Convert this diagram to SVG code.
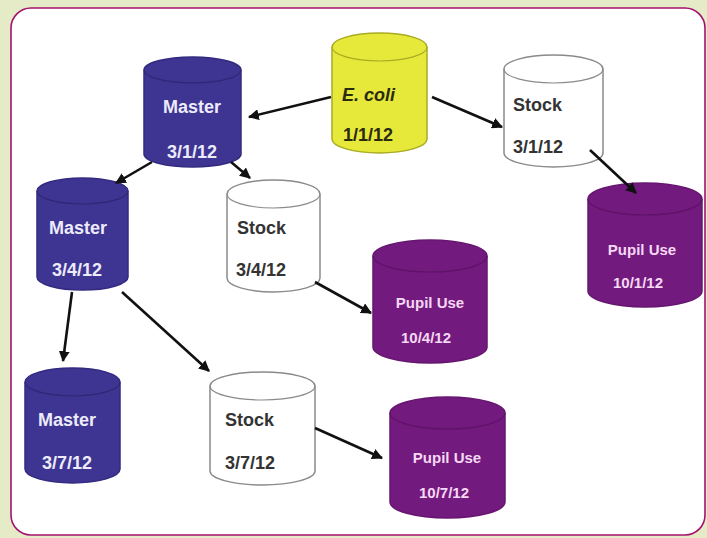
<svg xmlns="http://www.w3.org/2000/svg" width="707" height="538" viewBox="0 0 707 538">
<defs>
<style>
.master{fill:#3e3492;stroke:#332a80;stroke-width:1.5}
.masterTop{fill:none;stroke:#2f2775;stroke-width:1.2}
.stock{fill:#ffffff;stroke:#8a8a8a;stroke-width:1.5}
.stockTop{fill:none;stroke:#8a8a8a;stroke-width:1.2}
.pupil{fill:#731a7e;stroke:#661670;stroke-width:1.5}
.pupilTop{fill:none;stroke:#5e1268;stroke-width:1.2}
.ecoli{fill:#e6e83a;stroke:#a9ab22;stroke-width:1.5}
.ecoliTop{fill:none;stroke:#a9ab22;stroke-width:1.2}
text{font-family:"Liberation Sans",Arial,sans-serif;font-weight:bold}
.tm{fill:#ecebfa;font-size:18px;text-anchor:middle}
.ts{fill:#333333;font-size:18px}
.tp{fill:#f6d8f4;font-size:15px;text-anchor:middle}
.te{fill:#2b2b10;font-size:18px}
.conn{stroke:#111111;stroke-width:2.6;fill:none;marker-end:url(#ah)}
</style>
<marker id="ah" viewBox="0 0 10 10" refX="9" refY="5" markerWidth="4.2" markerHeight="4.2" orient="auto" markerUnits="strokeWidth">
<path d="M0,0 L10,5 L0,10 Z" fill="#111111"/>
</marker>
</defs>
<rect x="0" y="0" width="707" height="538" fill="#e5eac7"/>
<rect x="11" y="8" width="694" height="527" rx="20" ry="20" fill="#ffffff" stroke="#a3126f" stroke-width="1.6"/>

<g id="master-3-1-12">
<path class="master" d="M144,70 A48.5,13 0 0 1 241,70 V154 A48.5,13 0 0 1 144,154 Z"/>
<path class="masterTop" d="M144,70 A48.5,13 0 0 0 241,70"/>
<text class="tm" x="192" y="113">Master</text>
<text class="tm" x="192" y="158">3/1/12</text>
</g>

<g id="ecoli-1-1-12">
<path class="ecoli" d="M332,47 A47.5,14 0 0 1 427,47 V139 A47.5,14 0 0 1 332,139 Z"/>
<path class="ecoliTop" d="M332,47 A47.5,14 0 0 0 427,47"/>
<text class="te" x="342" y="101" font-style="italic">E. coli</text>
<text class="te" x="343" y="141">1/1/12</text>
</g>

<g id="stock-3-1-12">
<path class="stock" d="M504,69 A49.5,14 0 0 1 603,69 V153 A49.5,14 0 0 1 504,153 Z"/>
<path class="stockTop" d="M504,69 A49.5,14 0 0 0 603,69"/>
<text class="ts" x="513" y="111">Stock</text>
<text class="ts" x="513" y="153">3/1/12</text>
</g>

<g id="pupil-10-1-12">
<path class="pupil" d="M588,199 A57,16 0 0 1 702,199 V291 A57,16 0 0 1 588,291 Z"/>
<path class="pupilTop" d="M588,199 A57,16 0 0 0 702,199"/>
<text class="tp" x="642" y="255">Pupil Use</text>
<text class="tp" x="638" y="288">10/1/12</text>
</g>

<g id="master-3-4-12">
<path class="master" d="M37,191 A45.5,13 0 0 1 128,191 V277 A45.5,13 0 0 1 37,277 Z"/>
<path class="masterTop" d="M37,191 A45.5,13 0 0 0 128,191"/>
<text class="tm" x="78" y="234">Master</text>
<text class="tm" x="77" y="276">3/4/12</text>
</g>

<g id="stock-3-4-12">
<path class="stock" d="M227,194 A46.5,14 0 0 1 320,194 V278 A46.5,14 0 0 1 227,278 Z"/>
<path class="stockTop" d="M227,194 A46.5,14 0 0 0 320,194"/>
<text class="ts" x="237" y="234">Stock</text>
<text class="ts" x="236" y="276">3/4/12</text>
</g>

<g id="pupil-10-4-12">
<path class="pupil" d="M373,256 A57,16 0 0 1 487,256 V347 A57,16 0 0 1 373,347 Z"/>
<path class="pupilTop" d="M373,256 A57,16 0 0 0 487,256"/>
<text class="tp" x="430" y="308">Pupil Use</text>
<text class="tp" x="426" y="343">10/4/12</text>
</g>

<g id="master-3-7-12">
<path class="master" d="M25,382 A47.5,14 0 0 1 120,382 V469 A47.5,14 0 0 1 25,469 Z"/>
<path class="masterTop" d="M25,382 A47.5,14 0 0 0 120,382"/>
<text class="tm" x="67" y="426">Master</text>
<text class="tm" x="67" y="469">3/7/12</text>
</g>

<g id="stock-3-7-12">
<path class="stock" d="M210,386 A52.5,14 0 0 1 315,386 V471 A52.5,14 0 0 1 210,471 Z"/>
<path class="stockTop" d="M210,386 A52.5,14 0 0 0 315,386"/>
<text class="ts" x="225" y="426">Stock</text>
<text class="ts" x="225" y="469">3/7/12</text>
</g>

<g id="pupil-10-7-12">
<path class="pupil" d="M390,413 A57.5,16 0 0 1 505,413 V502 A57.5,16 0 0 1 390,502 Z"/>
<path class="pupilTop" d="M390,413 A57.5,16 0 0 0 505,413"/>
<text class="tp" x="447" y="463">Pupil Use</text>
<text class="tp" x="444" y="498">10/7/12</text>
</g>

<g id="connectors">
<line class="conn" x1="331" y1="97" x2="249" y2="117"/>
<line class="conn" x1="432" y1="97" x2="502" y2="127"/>
<line class="conn" x1="590" y1="150" x2="636" y2="193"/>
<line class="conn" x1="152" y1="162" x2="116" y2="183"/>
<line class="conn" x1="231" y1="162" x2="250" y2="178"/>
<line class="conn" x1="72" y1="292" x2="63" y2="361"/>
<line class="conn" x1="122" y1="292" x2="209" y2="371"/>
<line class="conn" x1="315" y1="282" x2="371" y2="313"/>
<line class="conn" x1="315" y1="428" x2="382" y2="458"/>
</g>
</svg>
